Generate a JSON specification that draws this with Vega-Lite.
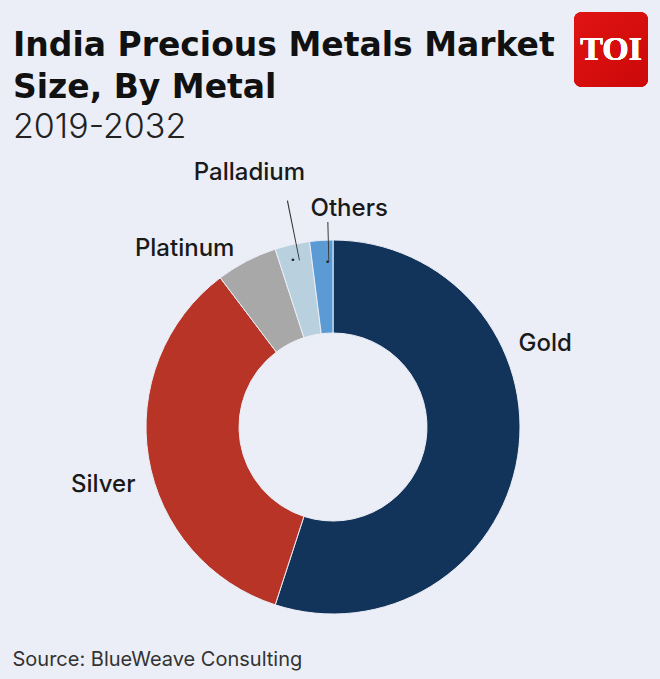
{
  "$schema": "https://vega.github.io/schema/vega-lite/v6.json",
  "width": 654,
  "height": 504,
  "autosize": "none",
  "padding": {"left": 6, "top": 175, "right": 0, "bottom": 0},
  "background": "#EBEEF6",
  "title": {
    "text": ["India Precious Metals Market", "Size, By Metal"],
    "subtitle": "2019-2032",
    "anchor": "start",
    "frame": "group",
    "dx": 7,
    "offset": -133,
    "font": "DejaVu Sans",
    "fontSize": 33,
    "fontWeight": 700,
    "lineHeight": 42,
    "color": "#111111",
    "subtitleFont": "Inter",
    "subtitleFontSize": 34,
    "subtitleFontWeight": 300,
    "subtitleColor": "#222222",
    "subtitlePadding": 6
  },
  "data": {
    "values": [
      {"metal": "Gold", "share": 55, "rank": 1},
      {"metal": "Silver", "share": 34.7, "rank": 2},
      {"metal": "Platinum", "share": 5.3, "rank": 3},
      {"metal": "Palladium", "share": 3, "rank": 4},
      {"metal": "Others", "share": 2, "rank": 5}
    ]
  },
  "layer": [
    {
      "encoding": {
        "theta": {"field": "share", "type": "quantitative", "stack": true, "scale": {"domain": [0, 100]}},
        "order": {"field": "rank", "type": "quantitative"}
      },
      "layer": [
        {
          "mark": {"type": "arc", "radius": 187, "radius2": 94, "stroke": "#EBEEF6", "strokeWidth": 1},
          "encoding": {
            "color": {
              "field": "metal",
              "type": "nominal",
              "legend": null,
              "scale": {
                "domain": ["Gold", "Silver", "Platinum", "Palladium", "Others"],
                "range": ["#12335A", "#B73427", "#A8A8A8", "#B9D0DE", "#5B9BD5"]
              }
            }
          }
        },
        {
          "mark": {"type": "text", "radius": 229, "dx": -14, "dy": -119, "font": "Inter", "fontSize": 24, "fontWeight": 500, "color": "#1a1a1a"},
          "encoding": {"text": {"condition": {"test": "datum.metal === 'Gold'", "field": "metal"}, "value": ""}}
        },
        {
          "mark": {"type": "text", "radius": 230, "dx": -3, "dy": 20, "font": "Inter", "fontSize": 24, "fontWeight": 500, "color": "#1a1a1a"},
          "encoding": {"text": {"condition": {"test": "datum.metal === 'Silver'", "field": "metal"}, "value": ""}}
        },
        {
          "mark": {"type": "text", "radius": 230, "dx": -42, "dy": 26, "font": "Inter", "fontSize": 24, "fontWeight": 500, "color": "#1a1a1a"},
          "encoding": {"text": {"condition": {"test": "datum.metal === 'Platinum'", "field": "metal"}, "value": ""}}
        },
        {
          "mark": {"type": "text", "radius": 255, "dx": -28, "dy": -5, "font": "Inter", "fontSize": 24, "fontWeight": 500, "color": "#1a1a1a"},
          "encoding": {"text": {"condition": {"test": "datum.metal === 'Palladium'", "field": "metal"}, "value": ""}}
        },
        {
          "mark": {"type": "text", "radius": 220, "dx": 30, "dy": 2, "font": "Inter", "fontSize": 24, "fontWeight": 500, "color": "#1a1a1a"},
          "encoding": {"text": {"condition": {"test": "datum.metal === 'Others'", "field": "metal"}, "value": ""}}
        },
        {
          "mark": {"type": "text", "radius": 170, "dx": -3, "dy": -1, "font": "DejaVu Sans", "fontSize": 9, "color": "#222222"},
          "encoding": {"text": {"condition": {"test": "datum.metal === 'Palladium'", "value": "•"}, "value": ""}}
        },
        {
          "mark": {"type": "text", "radius": 165, "dx": 5, "dy": 0, "font": "DejaVu Sans", "fontSize": 9, "color": "#222222"},
          "encoding": {"text": {"condition": {"test": "datum.metal === 'Others'", "value": "•"}, "value": ""}}
        },
        {
          "transform": [
            {"stack": "share", "sort": [{"field": "rank", "order": "ascending"}], "as": ["s0", "s1"], "groupby": []},
            {"filter": "datum.metal === 'Palladium'"}
          ],
          "mark": {"type": "arc", "radius": 231, "radius2": 170, "thetaOffset": 0.113, "theta2Offset": 0.118, "color": "#333333"},
          "encoding": {
            "theta": {"field": "s0", "type": "quantitative", "stack": null, "scale": {"domain": [0, 100]}},
            "theta2": {"field": "s0"}
          }
        },
        {
          "transform": [
            {"stack": "share", "sort": [{"field": "rank", "order": "ascending"}], "as": ["s0", "s1"], "groupby": []},
            {"filter": "datum.metal === 'Others'"}
          ],
          "mark": {"type": "arc", "radius": 205, "radius2": 165, "thetaOffset": 0.098, "theta2Offset": 0.103, "color": "#333333"},
          "encoding": {
            "theta": {"field": "s0", "type": "quantitative", "stack": null, "scale": {"domain": [0, 100]}},
            "theta2": {"field": "s0"}
          }
        }
      ]
    },
    {
      "mark": {"type": "text", "opacity": 0},
      "encoding": {
        "x": {
          "datum": 0,
          "type": "quantitative",
          "axis": {
            "title": "Source: BlueWeave Consulting",
            "titleFont": "Inter",
            "titleFontSize": 20,
            "titleFontWeight": 400,
            "titleColor": "#333333",
            "titleAnchor": "start",
            "titleAlign": "left",
            "titleX": 6,
            "titleY": -30,
            "domain": false,
            "ticks": false,
            "labels": false,
            "grid": false
          }
        },
        "text": {"value": ""}
      }
    },
    {
      "mark": {
        "type": "rect",
        "x": 568,
        "x2": 642,
        "y": -163,
        "y2": -88,
        "cornerRadius": 8,
        "fill": {
          "x1": 0, "y1": 0, "x2": 1, "y2": 1,
          "gradient": "linear",
          "stops": [{"offset": 0, "color": "#E01414"}, {"offset": 1, "color": "#CC0808"}]
        }
      }
    },
    {
      "mark": {"type": "text", "x": 605, "y": -125, "font": "Liberation Serif", "fontWeight": 700, "fontSize": 34, "color": "#FFFFFF", "text": "TOI"}
    }
  ],
  "config": {"view": {"stroke": null}}
}
